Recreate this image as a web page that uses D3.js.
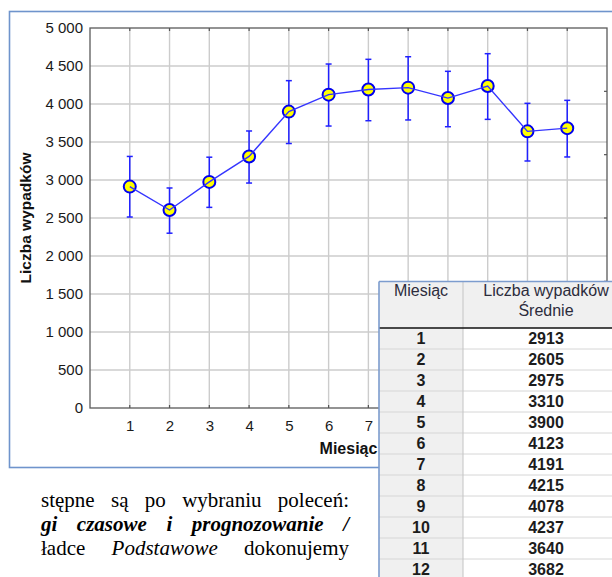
<!DOCTYPE html>
<html>
<head>
<meta charset="utf-8">
<script src="https://cdn.jsdelivr.net/npm/d3@7"></script>
<style>
  body { margin: 0; background: #fff; }
  svg { display: block; }
</style>
</head>
<body>
<div id="container"></div>
<script>
// data
let months = [1, 2, 3, 4, 5, 6, 7, 8, 9, 10, 11, 12];
let means = [2913, 2605, 2975, 3310, 3900, 4123, 4191, 4215, 4078, 4237, 3640, 3682];
let upper = [3310, 2895, 3300, 3645, 4307, 4526, 4588, 4622, 4430, 4662, 4009, 4048];
let lower = [2513, 2300, 2640, 2960, 3480, 3710, 3780, 3790, 3701, 3798, 3250, 3303];
let yTicks = [0, 500, 1000, 1500, 2000, 2500, 3000, 3500, 4000, 4500, 5000];
let tableHead = ["Miesiąc", "Liczba wypadków", "Średnie"];
let textLines = [
  [{t: "stępne są po wybraniu poleceń:", s: ""}],
  [{t: "gi czasowe i prognozowanie /", s: "bi"}],
  [{t: "ładce ", s: ""}, {t: "Podstawowe", s: "i"}, {t: " dokonujemy", s: ""}]
];

let w = 612;
let h = 577;
let plot = {left: 90, right: 607, top: 28, bottom: 408};

let pl = d3.formatLocale({decimal: ",", thousands: "\u00a0", grouping: [3], currency: ["", ""]});
let fmt = pl.format(",");

let svg = d3.select("#container")
  .append("svg")
  .attr("width", w)
  .attr("height", h);

svg.append("rect").attr("width", w).attr("height", h).attr("fill", "#fff");

// outer frame of the chart
svg.append("rect")
  .attr("x", 9.5).attr("y", 11.5)
  .attr("width", 650).attr("height", 456)
  .attr("fill", "none")
  .attr("stroke", "#6f94cc")
  .attr("stroke-width", 1.6);

let x = d3.scaleLinear().domain([0, 13]).range([plot.left, plot.right]);
let y = d3.scaleLinear().domain([0, 5000]).range([plot.bottom, plot.top]);
let yRight = d3.scaleLinear().domain([0, 6]).range([plot.bottom, plot.top]);

// grid
svg.append("g")
  .selectAll("line")
  .data(months)
  .enter()
  .append("line")
  .attr("x1", d => x(d)).attr("x2", d => x(d))
  .attr("y1", plot.top).attr("y2", plot.bottom)
  .attr("stroke", "#cccccc").attr("stroke-width", 1.4);

svg.append("g")
  .selectAll("line")
  .data(yTicks.slice(1, -1))
  .enter()
  .append("line")
  .attr("x1", plot.left).attr("x2", plot.right)
  .attr("y1", d => y(d)).attr("y2", d => y(d))
  .attr("stroke", "#cccccc").attr("stroke-width", 1.4);

// small inner ticks
let ticks = svg.append("g").attr("stroke", "#555").attr("stroke-width", 1.2);
months.forEach(function(m) {
  ticks.append("line").attr("x1", x(m)).attr("x2", x(m)).attr("y1", plot.top).attr("y2", plot.top + 3);
  ticks.append("line").attr("x1", x(m)).attr("x2", x(m)).attr("y1", plot.bottom).attr("y2", plot.bottom - 3);
});
d3.range(1, 6).forEach(function(k) {
  ticks.append("line").attr("x1", plot.right).attr("x2", plot.right - 3).attr("y1", yRight(k)).attr("y2", yRight(k));
});

// plot border
svg.append("rect")
  .attr("x", plot.left).attr("y", plot.top)
  .attr("width", plot.right - plot.left).attr("height", plot.bottom - plot.top)
  .attr("fill", "none")
  .attr("stroke", "#5a5a5a")
  .attr("stroke-width", 1.3);

// axes (labels only)
let yAxis = svg.append("g")
  .attr("transform", "translate(" + plot.left + ",0)")
  .call(d3.axisLeft(y).tickValues(yTicks).tickFormat(fmt).tickSize(0).tickPadding(7));
let xAxis = svg.append("g")
  .attr("transform", "translate(0," + plot.bottom + ")")
  .call(d3.axisBottom(x).tickValues(months).tickSize(0).tickPadding(12));
[yAxis, xAxis].forEach(function(a) {
  a.select(".domain").remove();
  a.selectAll("text")
    .attr("fill", "#1a1a1a")
    .style("font-family", "Arial, 'Liberation Sans', sans-serif")
    .style("font-size", "15px");
});

svg.append("text")
  .attr("transform", "translate(31," + (plot.top + plot.bottom) / 2 + ") rotate(-90)")
  .attr("text-anchor", "middle")
  .style("font-family", "Arial, 'Liberation Sans', sans-serif")
  .style("font-size", "15.5px")
  .style("font-weight", "bold")
  .attr("fill", "#111")
  .text("Liczba wypadków");

svg.append("text")
  .attr("x", (plot.left + plot.right) / 2)
  .attr("y", 454)
  .attr("text-anchor", "middle")
  .style("font-family", "Arial, 'Liberation Sans', sans-serif")
  .style("font-size", "16px")
  .style("font-weight", "bold")
  .attr("fill", "#111")
  .text("Miesiąc");

// error bars
let eb = svg.append("g").attr("stroke", "#2020ff").attr("stroke-width", 1.5);
months.forEach(function(m, i) {
  eb.append("line").attr("x1", x(m)).attr("x2", x(m)).attr("y1", y(lower[i])).attr("y2", y(upper[i]));
  eb.append("line").attr("x1", x(m) - 3).attr("x2", x(m) + 3).attr("y1", y(lower[i])).attr("y2", y(lower[i]));
  eb.append("line").attr("x1", x(m) - 3).attr("x2", x(m) + 3).attr("y1", y(upper[i])).attr("y2", y(upper[i]));
});

// markers
svg.append("g")
  .selectAll("circle")
  .data(months)
  .enter()
  .append("circle")
  .attr("cx", d => x(d))
  .attr("cy", (d, i) => y(means[i]))
  .attr("r", 6)
  .attr("fill", "#ffff00")
  .attr("stroke", "#0000ee")
  .attr("stroke-width", 2);

// mean line
svg.append("path")
  .datum(months)
  .attr("d", d3.line().x(d => x(d)).y((d, i) => y(means[i])))
  .attr("fill", "none")
  .attr("stroke", "#3535ff")
  .attr("stroke-width", 1.4);

// table
let tab = {left: 379, col: 463, right: 640, top: 281.5, head: 328, row: 21};
let tg = svg.append("g");
tg.append("rect").attr("x", tab.left).attr("y", tab.top).attr("width", tab.right - tab.left).attr("height", h - tab.top).attr("fill", "#fff");
tg.append("rect").attr("x", tab.left).attr("y", tab.top).attr("width", tab.right - tab.left).attr("height", tab.head - tab.top).attr("fill", "#f0f0f0");
tg.append("rect").attr("x", tab.left).attr("y", tab.head).attr("width", tab.col - tab.left).attr("height", h - tab.head).attr("fill", "#f0f0f0");

tg.selectAll(".sep")
  .data(months)
  .enter()
  .append("line")
  .attr("x1", tab.left).attr("x2", tab.right)
  .attr("y1", (d, i) => tab.head + (i + 1) * tab.row)
  .attr("y2", (d, i) => tab.head + (i + 1) * tab.row)
  .attr("stroke", "#d6d6d6").attr("stroke-width", 1);

tg.append("line").attr("x1", tab.col).attr("x2", tab.col).attr("y1", tab.top).attr("y2", h)
  .attr("stroke", "#c4c4c4").attr("stroke-width", 1);
tg.append("line").attr("x1", tab.left).attr("x2", tab.right).attr("y1", tab.head).attr("y2", tab.head)
  .attr("stroke", "#111").attr("stroke-width", 1.6);
tg.append("line").attr("x1", tab.left).attr("x2", tab.right).attr("y1", tab.top).attr("y2", tab.top)
  .attr("stroke", "#7c9cce").attr("stroke-width", 1.6);
tg.append("line").attr("x1", tab.left).attr("x2", tab.left).attr("y1", tab.top).attr("y2", h)
  .attr("stroke", "#7c9cce").attr("stroke-width", 1.6);

let headStyle = function(sel) {
  sel.attr("text-anchor", "middle")
    .style("font-family", "Arial, 'Liberation Sans', sans-serif")
    .style("font-size", "16px")
    .attr("fill", "#2c2c3c");
};
tg.append("text").attr("x", (tab.left + tab.col) / 2).attr("y", 296).text(tableHead[0]).call(headStyle);
tg.append("text").attr("x", 546).attr("y", 296).text(tableHead[1]).call(headStyle);
tg.append("text").attr("x", 546).attr("y", 316).text(tableHead[2]).call(headStyle);

let cells = tg.selectAll(".cell")
  .data(months)
  .enter()
  .append("g")
  .attr("transform", (d, i) => "translate(0," + (tab.head + i * tab.row + 16) + ")");
cells.append("text").attr("x", (tab.left + tab.col) / 2).text(d => d);
cells.append("text").attr("x", 546).text((d, i) => means[i]);
cells.selectAll("text")
  .attr("text-anchor", "middle")
  .style("font-family", "Arial, 'Liberation Sans', sans-serif")
  .style("font-size", "16px")
  .style("font-weight", "bold")
  .attr("fill", "#1c1c1c");

// body text below the chart, justified to a common right edge
let baselines = [507, 531, 555];
let textLeft = 41, textRight = 349;
textLines.forEach(function(parts, li) {
  let t = svg.append("text")
    .attr("x", textLeft)
    .attr("y", baselines[li])
    .style("font-family", "'Liberation Serif', 'DejaVu Serif', serif")
    .style("font-size", "21px")
    .style("white-space", "pre")
    .attr("fill", "#000");
  parts.forEach(function(p) {
    t.append("tspan")
      .text(p.t)
      .style("font-weight", p.s == "bi" ? "bold" : "normal")
      .style("font-style", p.s ? "italic" : "normal");
  });
  let spaces = parts.map(p => p.t).join("").split(" ").length - 1;
  let len = t.node().getComputedTextLength();
  t.style("word-spacing", ((textRight - textLeft - len) / spaces) + "px");
});
</script>
</body>
</html>
